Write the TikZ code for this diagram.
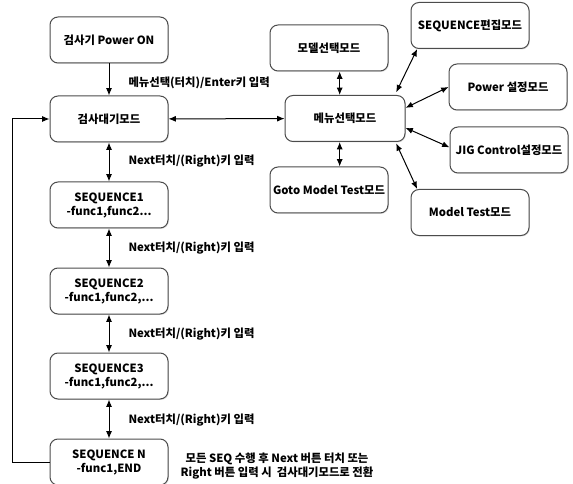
\documentclass[tikz,border=0pt]{standalone}
\usepackage{fontspec}
\setmainfont{Noto Sans CJK KR}
\usepackage{tikz}
\usetikzlibrary{shadows,arrows.meta}
\tikzset{modebox/.style={draw=black!70, line width=.75pt, rounded corners=6pt,
  fill=white, drop shadow={shadow xshift=.7pt, shadow yshift=-.7pt, opacity=.25},
  minimum width=88.5pt, minimum height=34.5pt, inner sep=1pt, align=center,
  font=\bfseries\fontsize{8.5}{10.5}\selectfont}}
\tikzset{keylabel/.style={anchor=west, inner sep=0pt,
  font=\bfseries\fontsize{8.5}{10}\selectfont}}

\begin{document}
\begin{tikzpicture}[x=.75pt, y=-.75pt, >={Latex[length=5.5pt,width=4.5pt]}, line width=.75pt]

\useasboundingbox (0,0) rectangle (573,484);

\node[modebox] (poweron) at (109,40) {검사기 Power ON};
\node[modebox] (wait) at (109,119) {검사대기모드};
\node[modebox] (seq1) at (109,205) {SEQUENCE1\\-func1,func2...};
\node[modebox] (seq2) at (109,291) {SEQUENCE2\\-func1,func2,...};
\node[modebox] (seq3) at (109,376) {SEQUENCE3\\-func1,func2,...};
\node[modebox] (seqn) at (109,462) {SEQUENCE N\\-func1,END};

\node[modebox] (modelsel) at (329,48) {모델선택모드};
\node[modebox, minimum width=90pt] (menu) at (345,118.5) {메뉴선택모드};
\node[modebox] (gotomodel) at (329,190) {Goto Model Test모드};
\node[modebox] (seqedit) at (470,25.5) {SEQUENCE편집모드};
\node[modebox] (powerset) at (508,87) {Power 설정모드};
\node[modebox] (jigset) at (509,150) {JIG Control설정모드};
\node[modebox] (modeltest) at (470,212.5) {Model Test모드};

\node[keylabel] (enterkey) at (128,83) {메뉴선택(터치)/Enter키 입력};
\node[keylabel] (nextkeya) at (128,161) {Next터치/(Right)키 입력};
\node[keylabel] (nextkeyb) at (128,248) {Next터치/(Right)키 입력};
\node[keylabel] (nextkeyc) at (128,334) {Next터치/(Right)키 입력};
\node[keylabel] (nextkeyd) at (128,420) {Next터치/(Right)키 입력};
\node[align=center, inner sep=0pt, font=\bfseries\fontsize{8.5}{10}\selectfont] (backnote) at (277,466)
  {모든 SEQ 수행 후 Next 버튼 터치 또는\\Right 버튼 입력 시 \ 검사대기모드로 전환};

\draw[->] (poweron) -- (wait);
\draw[<->] (wait) -- (seq1);
\draw[<->] (seq1) -- (seq2);
\draw[<->] (seq2) -- (seq3);
\draw[<->] (seq3) -- (seqn);
\draw[->] (seqn.west) -- ++(-37,0) |- (wait.west);

\draw[<->] (wait) -- (menu);
\draw[<->] ([xshift=8pt]modelsel.south) -- ([xshift=-4pt]menu.north);
\draw[<->] ([xshift=-4pt]menu.south) -- ([xshift=8pt]gotomodel.north);
\draw[<->] ([shift={(-7pt,2pt)}]menu.north east) -- ([xshift=5pt]seqedit.south west);
\draw[<->] ([yshift=8pt]menu.east) -- (powerset.west);
\draw[<->] ([yshift=-7pt]menu.east) -- ([yshift=2pt]jigset.west);
\draw[<->] ([shift={(-7pt,-1pt)}]menu.south east) -- ([xshift=5pt]modeltest.north west);

\end{tikzpicture}
\end{document}
